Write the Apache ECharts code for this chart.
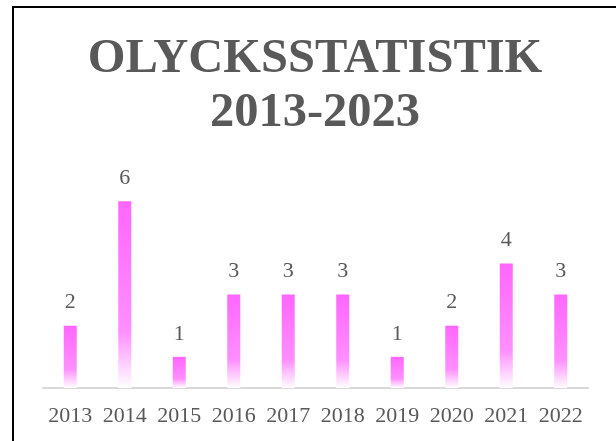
<!DOCTYPE html>
<html>
<head>
<meta charset="utf-8">
<script src="https://cdn.jsdelivr.net/npm/echarts@6/dist/echarts.min.js"></script>
<style>
  html, body { margin: 0; padding: 0; background: #fff; }
  #chart { width: 616px; height: 441px; }
</style>
</head>
<body>
<div id="chart"></div>
<script>
// chart data
const years = ['2013', '2014', '2015', '2016', '2017', '2018', '2019', '2020', '2021', '2022'];
const accidents = [2, 6, 1, 3, 3, 3, 1, 2, 4, 3];
const titleLines = ['OLYCKSSTATISTIK', '2013-2023'];

const textColor = '#595959';
const serif = '"Liberation Serif", "DejaVu Serif", serif';

const chart = echarts.init(document.getElementById('chart'));

const option = {
  backgroundColor: '#fff',
  animation: false,
  title: {
    text: titleLines.join('\n'),
    left: 310,
    top: 27,
    textAlign: 'center',
    textStyle: {
      fontFamily: serif,
      fontWeight: 'bold',
      fontSize: 48.5,
      lineHeight: 54,
      color: textColor,
    },
  },
  // frame of the chart area (only top and left edges are visible)
  graphic: [
    {
      type: 'polyline',
      shape: { points: [[13, 441], [13, 7], [616, 7]] },
      style: { stroke: '#000', lineWidth: 2, fill: null },
    },
  ],
  grid: {
    left: 43,
    right: 28,
    top: 170,
    bottom: 53,
  },
  xAxis: {
    type: 'category',
    data: years,
    axisLine: { lineStyle: { color: '#d9d9d9', width: 2 } },
    axisTick: { show: false },
    axisLabel: {
      interval: 0,
      color: textColor,
      fontFamily: serif,
      fontSize: 22,
      margin: 17,
    },
  },
  yAxis: {
    type: 'value',
    min: 0,
    max: 7,
    show: false,
    splitLine: { show: false },
  },
  series: [
    {
      type: 'bar',
      data: accidents,
      barWidth: 13,
      itemStyle: {
        color: new echarts.graphic.LinearGradient(0, 0, 0, 1, [
          { offset: 0, color: '#ff66ff' },
          { offset: 0.7, color: '#ff8fff' },
          { offset: 1, color: '#ffffff' },
        ]),
      },
      label: {
        show: true,
        position: 'top',
        distance: 12,
        color: textColor,
        fontFamily: serif,
        fontSize: 22,
      },
    },
  ],
};

chart.setOption(option);
</script>
</body>
</html>
